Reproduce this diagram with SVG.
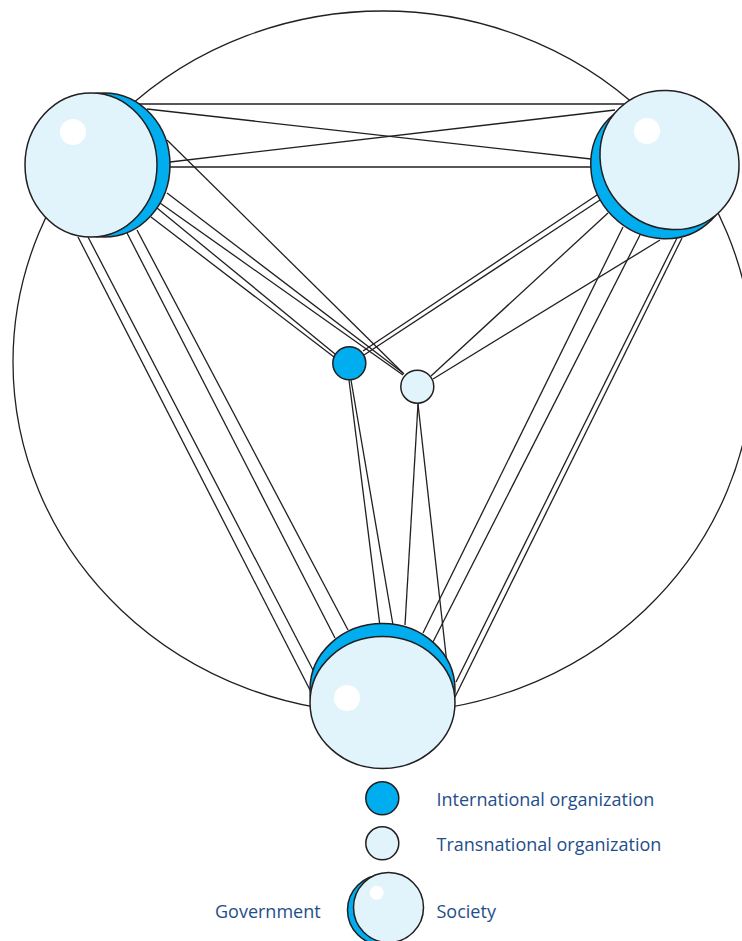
<svg xmlns="http://www.w3.org/2000/svg" width="742" height="941" viewBox="0 0 742 941">
<style>
.ring{fill:none;stroke:#231f20;stroke-width:1.3}
.ln{stroke:#231f20;stroke-width:1.3;fill:none}
.gov{fill:#00aeef;stroke:#231f20;stroke-width:1.5}
.soc{fill:#e1f3fb;stroke:#231f20;stroke-width:1.5}
.io{fill:#00aeef;stroke:#231f20;stroke-width:1.5}
.to{fill:#e1f3fb;stroke:#231f20;stroke-width:1.5}
.hl{fill:#ffffff}
.lbl{font-family:"Open Sans","Liberation Sans",sans-serif;font-size:18px;fill:#1f4e8c}
</style>
<rect width="742" height="941" fill="#ffffff"/>
<ellipse class="ring" cx="383" cy="362" rx="370" ry="351"/>
<g id="connectors">
<line class="ln" x1="137" y1="104" x2="624" y2="104"/>
<line class="ln" x1="147" y1="109" x2="591" y2="159"/>
<line class="ln" x1="170" y1="162" x2="615" y2="110"/>
<line class="ln" x1="170" y1="167" x2="591" y2="167"/>
<line class="ln" x1="167" y1="140" x2="404" y2="374"/>
<line class="ln" x1="167" y1="193" x2="403" y2="373"/>
<line class="ln" x1="160" y1="203" x2="403" y2="375"/>
<line class="ln" x1="157" y1="208" x2="335" y2="354"/>
<line class="ln" x1="151" y1="217" x2="334" y2="357"/>
<line class="ln" x1="597" y1="195" x2="363" y2="351"/>
<line class="ln" x1="600" y1="200" x2="364" y2="355"/>
<line class="ln" x1="608" y1="213" x2="431" y2="376"/>
<line class="ln" x1="660" y1="240" x2="433" y2="379"/>
<line class="ln" x1="349" y1="380" x2="380" y2="626"/>
<line class="ln" x1="351" y1="380" x2="393" y2="625"/>
<line class="ln" x1="418" y1="404" x2="405" y2="625"/>
<line class="ln" x1="418" y1="404" x2="447" y2="664"/>
<line class="ln" x1="78" y1="237" x2="310" y2="690"/>
<line class="ln" x1="88" y1="237" x2="313" y2="670"/>
<line class="ln" x1="127" y1="233" x2="335" y2="638"/>
<line class="ln" x1="137" y1="230" x2="348" y2="630"/>
<line class="ln" x1="623" y1="227" x2="423" y2="633"/>
<line class="ln" x1="641" y1="233" x2="433" y2="642"/>
<line class="ln" x1="677" y1="238" x2="456" y2="682"/>
<line class="ln" x1="682" y1="238" x2="455" y2="697"/>
</g>
<g id="country-top-left">
<g transform="translate(91,165)">
<ellipse class="gov" cx="13" cy="0" rx="66" ry="72"/>
<ellipse class="soc" cx="0" cy="0" rx="66" ry="72"/>
</g>
<circle class="hl" cx="73" cy="132" r="13"/>
</g>
<g id="country-top-right">
<g transform="translate(669.5,160) rotate(135)">
<ellipse class="gov" cx="13" cy="0" rx="67" ry="72"/>
<ellipse class="soc" cx="0" cy="0" rx="67" ry="72"/>
</g>
<circle class="hl" cx="647" cy="131" r="13"/>
</g>
<g id="country-bottom">
<g transform="translate(382.5,702.5) rotate(-90)">
<ellipse class="gov" cx="13" cy="0" rx="66" ry="72.5"/>
<ellipse class="soc" cx="0" cy="0" rx="66" ry="72.5"/>
</g>
<circle class="hl" cx="347" cy="698" r="13"/>
</g>
<g id="international-organization">
<circle class="io" cx="349.3" cy="363.3" r="16.5"/>
</g>
<g id="transnational-organization">
<circle class="to" cx="417.3" cy="386.7" r="16.5"/>
</g>
<g id="legend">
<circle class="io" cx="382.3" cy="798.3" r="16.5"/>
<circle class="to" cx="382.3" cy="843.3" r="16.5"/>
<circle class="gov" cx="382.5" cy="910" r="35"/>
<circle class="soc" cx="388.5" cy="907.5" r="35"/>
<circle class="hl" cx="376.7" cy="892.7" r="7"/>
<text class="lbl" x="436.5" y="806">International organization</text>
<text class="lbl" x="436.5" y="851">Transnational organization</text>
<text class="lbl" x="215" y="917.5">Government</text>
<text class="lbl" x="436.5" y="917.5">Society</text>
</g>
</svg>
